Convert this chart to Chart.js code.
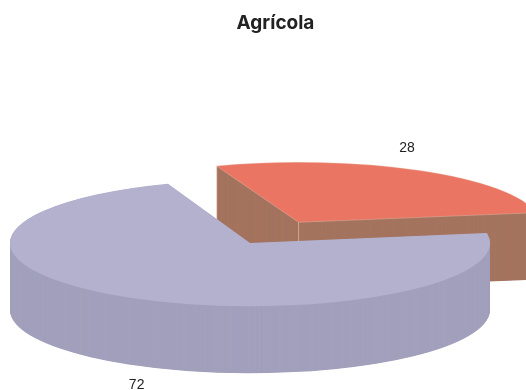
<!DOCTYPE html>
<html>
<head>
<meta charset="utf-8">
<title>Agrícola</title>
<script src="https://cdn.jsdelivr.net/npm/chart.js@4/dist/chart.umd.min.js"></script>
<style>
  html, body { margin: 0; padding: 0; background: #fff; overflow: hidden; }
  #wrap { position: relative; width: 526px; height: 390px; }
</style>
</head>
<body>
<div id="wrap"><canvas id="pie" width="526" height="390"></canvas></div>
<script>
const chartTitle = "Agrícola";
const categories = ["A", "B"];
const values = [28, 72];
const topColors = ["#e97562", "#b4b1cf"];
const sideColors = ["#a4745f", "#a2a0bc"];
const edgeColors = ["rgba(240,200,185,.6)", null];
const explode = [96, 0]; // how far each slice is pulled out of the pie
const squash = [0.25, 0.263]; // rear slice looks flatter, the original has some perspective

const centerX = 250, centerY = 243;
const depth = 67;

// draws the library's arcs tilted and extruded instead of the flat default
const pie3d = {
  id: "pie3d",
  afterLayout(chart) {
    // title sits right of the canvas centre in the original
    chart.titleBlock.left += 25;
  },
  beforeDatasetDraw(chart, args) {
    const ctx = chart.ctx;
    const arcs = args.meta.data;
    arcs.forEach((arc, i) => {
      const mid = (arc.startAngle + arc.endAngle) / 2;
      const k = squash[i];
      const copy = Object.create(arc);
      copy.x = centerX + Math.cos(mid) * explode[i];
      const baseY = centerY / k + Math.sin(mid) * explode[i];
      ctx.save();
      ctx.scale(1, k);
      // side walls: stacked copies of the slice, top one goes on last
      copy.options = { ...arc.options, backgroundColor: sideColors[i], borderWidth: 0 };
      for (let d = depth; d > 0; d -= 0.5) {
        copy.y = baseY + d / k;
        copy.draw(ctx);
      }
      copy.y = baseY;
      copy.options = edgeColors[i]
        ? { ...arc.options, backgroundColor: topColors[i], borderWidth: 1, borderColor: edgeColors[i] }
        : { ...arc.options, backgroundColor: topColors[i], borderWidth: 0 };
      copy.draw(ctx);
      ctx.restore();

      if (edgeColors[i]) {
        // pale vertical creases where the walls of the slice meet
        const y0 = baseY * k;
        ctx.save();
        ctx.strokeStyle = edgeColors[i];
        ctx.lineWidth = 1;
        ctx.beginPath();
        ctx.moveTo(copy.x, y0);
        ctx.lineTo(copy.x, y0 + depth);
        const sx = copy.x + Math.cos(arc.startAngle) * arc.outerRadius;
        const sy = y0 + Math.sin(arc.startAngle) * arc.outerRadius * k;
        ctx.moveTo(sx, sy);
        ctx.lineTo(sx, sy + depth);
        ctx.stroke();
        ctx.restore();
      }
    });
    return false;
  },
  afterDraw(chart) {
    const ctx = chart.ctx;
    const arcs = chart.getDatasetMeta(0).data;
    ctx.save();
    ctx.font = "14px 'Liberation Sans'";
    ctx.fillStyle = "#222";
    ctx.textAlign = "center";
    ctx.textBaseline = "middle";
    arcs.forEach((arc, i) => {
      const mid = (arc.startAngle + arc.endAngle) / 2;
      const r = explode[i] * 0.9 + 224;
      const sy = Math.sin(mid);
      const x = centerX + Math.cos(mid) * r;
      const y = centerY + sy * r * squash[i] + (sy > 0 ? depth + 24 : -28);
      ctx.fillText(String(values[i]), x, y);
    });
    ctx.restore();
  }
};

new Chart(document.getElementById("pie"), {
  type: "pie",
  data: {
    labels: categories,
    datasets: [{ data: values, backgroundColor: topColors, borderWidth: 0 }]
  },
  options: {
    responsive: false,
    animation: false,
    radius: 240,
    rotation: -20,
    plugins: {
      legend: { display: false },
      tooltip: { enabled: false },
      title: {
        display: true,
        text: chartTitle,
        color: "#222",
        font: { family: "Inter", size: 19, weight: "bold" },
        padding: { top: 12, bottom: 0 }
      }
    }
  },
  plugins: [pie3d]
});
</script>
</body>
</html>
